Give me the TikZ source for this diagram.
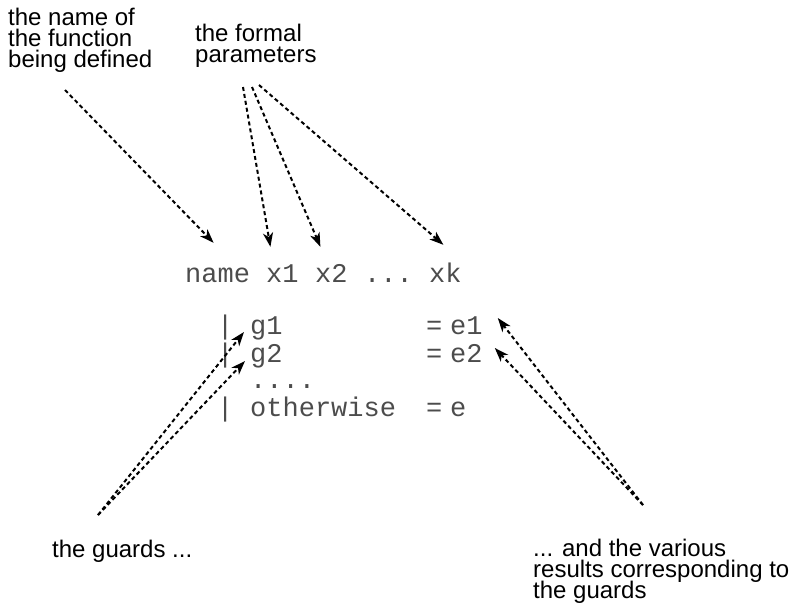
\documentclass[tikz,border=0pt]{standalone}
\usepackage{fontspec}
\setmainfont{Liberation Sans}
\setmonofont{Liberation Mono}
\usepackage{tikz}
\usetikzlibrary{arrows.meta}
\usetikzlibrary{calc}
\tikzset{every text node part/.style={align=left}}
\tikzstyle{lbl} = [inner sep=0pt, anchor=base west, font={\fontsize{24}{21}\selectfont\lineskiplimit=-20pt}]
\tikzstyle{code} = [inner sep=0pt, anchor=base west, text height=20pt, text depth=6pt, text=black!70, font={\ttfamily\fontsize{27}{28}\selectfont}]
\tikzstyle{ln} = [draw, line width=2pt, dash pattern=on 4pt off 3pt, arrows={-Stealth[length=14pt, width=10pt, inset=4pt]}]

\begin{document}
\begin{tikzpicture}[x=1pt, y=-1pt]
      \useasboundingbox (0,0) rectangle (796,606);
      % the labels round the equation (placed by their last line)
      \node[lbl] (fn) at (8,67) {the name of\\the function\\being defined};
      \node[lbl] (fp) at (195,62) {the formal\\parameters};
      \node[lbl] (gd) at (52,557) {the guards ...};
      \node[lbl] (rs) at (533,598) {... and the various\\results corresponding to\\the guards};
      % head of the definition
      \node[code] (nm) at (185,282) {name};
      \node[code] (x1) at (266,282) {x1};
      \node[code] (x2) at (315,282) {x2};
      \node[code] (xdots) at (364,282) {...};
      \node[code] (xk) at (429,282) {xk};
      % guarded equations
      \node[code] (bar1) at (217,334) {|};
      \node[code] (g1) at (250,334) {g1};
      \node[code] (eq1) at (426,334) {=};
      \node[code] (e1) at (450,334) {e1};
      \node[code] (bar2) at (217,362) {|};
      \node[code] (g2) at (250,362) {g2};
      \node[code] (eq2) at (426,362) {=};
      \node[code] (e2) at (450,362) {e2};
      \node[code] (gdots) at (250,388) {....};
      \node[code] (bar3) at (217,416) {|};
      \node[code] (ow) at (250,416) {otherwise};
      \node[code] (eq3) at (426,416) {=};
      \node[code] (e) at (450,416) {e};
      % tails of the pointers
      \coordinate (fn-t) at (65,90);
      \coordinate (fp-t1) at (243,87);
      \coordinate (fp-t2) at (252,87);
      \coordinate (fp-t3) at (259,85);
      \coordinate (gd-t) at (98,515);
      \coordinate (rs-t) at (643,505);
      \draw[ln] (fn-t) -- ([xshift=-4pt, yshift=19pt]nm.north);
      \draw[ln] (fp-t1) -- ([xshift=-12pt, yshift=15pt]x1.north);
      \draw[ln] (fp-t2) -- ([xshift=-11pt, yshift=15pt]x2.north);
      \draw[ln] (fp-t3) -- ([xshift=-2pt, yshift=17pt]xk.north);
      \draw[ln] (gd-t) -- ([xshift=-6pt, yshift=-5pt]g1.west);
      \draw[ln] (gd-t) -- ([xshift=-5pt, yshift=-6pt]g2.west);
      \draw[ln] (rs-t) -- ([xshift=15pt, yshift=9pt]e1.east);
      \draw[ln] (rs-t) -- ([xshift=12pt, yshift=7pt]e2.east);
\end{tikzpicture}
\end{document}
